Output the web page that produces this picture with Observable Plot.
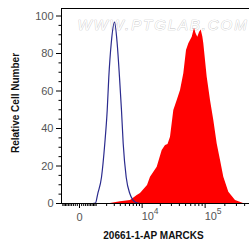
<!DOCTYPE html>
<html>
<head>
<meta charset="utf-8">
<script src="https://cdn.jsdelivr.net/npm/d3@7"></script>
<script src="https://cdn.jsdelivr.net/npm/@observablehq/plot@0.6"></script>
<style>
  html, body { margin: 0; padding: 0; background: white; }
</style>
</head>
<body>
<div id="chart"></div>
<script>
// Control (blue outline) histogram: fluorescence intensity vs relative cell number
const blueX = [728, 948, 1133, 1464, 1797, 2065, 2257, 2564, 3032, 3456, 3850, 4220, 4555, 5198, 6062, 7673, 9375];
const blueY = [0, 0.3, 5.3, 14, 32, 49.6, 67.4, 85.2, 96.7, 85.2, 67.4, 49.6, 32, 14, 5.3, 0.7, 0];

// Stained sample (red filled) histogram
const redX = [2472, 4032, 6243, 8218, 9375, 12319, 13816, 17786, 21410, 24180, 26500, 29020, 32720, 37000, 41660, 46890, 51640, 56060, 63270, 68670, 72410, 77190, 81970, 87050, 92110, 95420, 107600, 120850, 135760, 153000, 171900, 192900, 229900, 290700, 384300];
const redY = [0, 1.0, 1.6, 4.3, 5.3, 9.6, 14, 19.4, 28.3, 30.9, 31.5, 35.4, 49.6, 54.9, 60.3, 69.2, 81.6, 85.2, 88.7, 93.5, 90.7, 88.7, 91.2, 92.6, 89, 85.2, 67.4, 54.9, 44.3, 31.8, 22.9, 14, 6, 1.6, 0];

const yTicks = [0, 20, 40, 60, 80, 100];
const yMinor = [5, 10, 15, 25, 30, 35, 45, 50, 55, 65, 70, 75, 85, 90, 95];
const xMajor = [0, 10000, 100000];
const xMinor = [-1000, -900, -800, -700, -600, -500, -400, -300, -200, -100,
  100, 200, 300, 400, 500, 600, 700, 800, 900,
  1000, 2000, 3000, 4000, 5000, 6000, 7000, 8000, 9000,
  20000, 30000, 40000, 50000, 60000, 70000, 80000, 90000,
  200000, 300000, 400000];
const xLabelZero = ["0"];
const xLabelExp = [{v: 10000, e: "4"}, {v: 100000, e: "5"}];

const xTitle = "20661-1-AP MARCKS";
const yTitle = "Relative Cell Number";
const watermark = "WWW.PTGLAB.COM";

const blue = blueX.map((x, i) => ({x, y: blueY[i]}));
const red = redX.map((x, i) => ({x, y: redY[i]}));

const xMin = -1108, xMax = 474200, yMax = 104;

const chart = Plot.plot({
  width: 249,
  height: 248,
  marginLeft: 61,
  marginRight: 0,
  marginTop: 8,
  marginBottom: 45,
  style: {fontFamily: "'Liberation Sans', Arial, sans-serif", background: "white", overflow: "visible"},
  x: {type: "symlog", constant: 1270, domain: [xMin, xMax], axis: null},
  y: {domain: [0, yMax], axis: null},
  marks: [
    Plot.text([watermark], {frameAnchor: "top-left", dx: 16, dy: 11, text: d => d, textAnchor: "start",
      fontSize: 15, fontStyle: "italic", fill: "white", stroke: "#c4c4c4", strokeWidth: 0.7}),
    Plot.areaY(red, {x: "x", y: "y", fill: "#ff0000", curve: "linear"}),
    Plot.line(blue, {x: "x", y: "y", stroke: "#2b2b8e", strokeWidth: 1.2, curve: "monotone-x"}),
    Plot.ruleX([xMin], {stroke: "black", strokeWidth: 1}),
    Plot.ruleY([0], {stroke: "black", strokeWidth: 1}),
    Plot.ruleY([yMax], {stroke: "black", strokeWidth: 1}),
    Plot.axisY(yTicks, {anchor: "left", tickSize: 5, tickFormat: () => "", stroke: "black", label: null}),
    Plot.axisY(yMinor, {anchor: "left", tickSize: 2.5, tickFormat: () => "", stroke: "black", label: null}),
    Plot.text(yTicks, {y: d => d, text: d => String(d), frameAnchor: "left", textAnchor: "end", dx: -8,
      fontSize: 11, fill: "#555"}),
    Plot.axisX(xMajor, {anchor: "bottom", tickSize: 5, tickFormat: () => "", stroke: "black", label: null}),
    Plot.axisX(xMinor, {anchor: "bottom", tickSize: 3, tickFormat: () => "", stroke: "black", label: null}),
    Plot.text(xLabelZero, {x: () => 0, text: d => d, frameAnchor: "bottom", dy: 17, fontSize: 11, fill: "#555"}),
    Plot.text(xLabelExp, {x: "v", text: () => "10", frameAnchor: "bottom", textAnchor: "start", dx: -0.5, dy: 16.5, fontSize: 11, fill: "#555"}),
    Plot.text(xLabelExp, {x: "v", text: "e", frameAnchor: "bottom", textAnchor: "start", dx: 11.5, dy: 10.5, fontSize: 8.5, fill: "#555"}),
    Plot.text([xTitle], {frameAnchor: "bottom", text: d => d, textAnchor: "middle", dx: -2, dy: 35.5, fontSize: 10, fontWeight: "bold", fill: "#111"}),
    Plot.text([yTitle], {frameAnchor: "left", text: d => d, textAnchor: "middle", rotate: -90, dx: -46, dy: -3, fontSize: 10, fontWeight: "bold", fill: "#111"})
  ]
});

d3.select(chart).selectAll("text")
  .filter(function() { return this.textContent === watermark; })
  .attr("letter-spacing", "1.9px");
document.getElementById("chart").appendChild(chart);
</script>
</body>
</html>
